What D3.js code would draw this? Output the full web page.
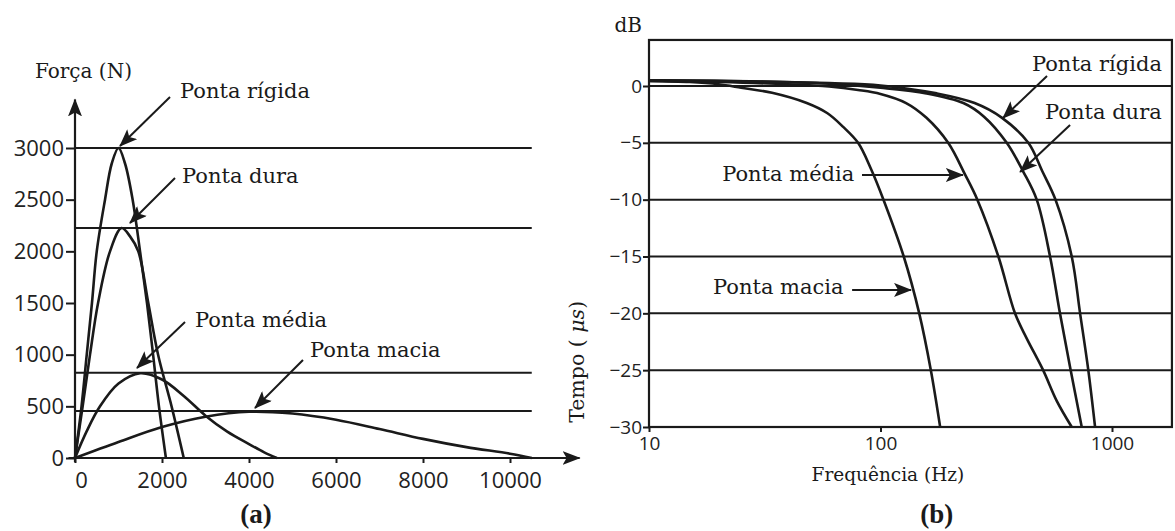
<!DOCTYPE html>
<html><head><meta charset="utf-8">
<script src="https://cdn.jsdelivr.net/npm/d3@7"></script>
<style>body{margin:0;background:#fff} svg{display:block}</style>
</head><body>
<svg id="c" width="1175" height="531"></svg>
<script>
// ---------- (a) Força x tempo ----------
const forceTicks = [0, 500, 1000, 1500, 2000, 2500, 3000];
const timeTicks = [0, 2000, 4000, 6000, 8000, 10000];
const peakLevels = [3000, 2225, 825, 455];
const rigidaForce = [[0,0],[150,500],[270,1000],[390,1500],[500,2000],[690,2500],[845,2850],[1000,3000],[1150,2850],[1325,2500],[1495,2000],[1655,1500],[1795,1000],[1930,500],[2090,0]];
const duraForce = [[0,0],[176,500],[345,1000],[530,1500],[805,2000],[1070,2225],[1265,2145],[1455,2000],[1685,1500],[1910,1000],[2220,500],[2500,0]];
const mediaForce = [[0,0],[270,260],[575,500],[1000,720],[1500,820],[2000,760],[2500,600],[3000,410],[3500,255],[4000,135],[4350,55],[4640,0]];
const maciaForce = [[0,0],[1000,155],[2000,300],[3000,400],[4000,448],[5000,430],[6000,370],[7000,280],[8000,185],[9000,105],[10000,42],[10500,0]];
const seriesA = ["Ponta rígida", "Ponta dura", "Ponta média", "Ponta macia"];

// ---------- (b) dB x frequência ----------
const dbTicks = [0, -5, -10, -15, -20, -25, -30];
const freqTicks = [10, 100, 1000];
const maciaDb = [[10,0.45],[15,0.35],[20,0.15],[25,-0.15],[34,-0.6],[48,-1.5],[59,-2.4],[69,-3.6],[80,-5],[91,-7.3],[103,-10],[126,-15],[147,-20],[165,-25],[181,-30]];
const mediaDb = [[10,0.45],[20,0.35],[40,0.15],[60,-0.05],[80,-0.35],[100,-0.7],[129,-1.5],[158,-2.8],[196,-5],[232,-7.8],[262,-10],[323,-15],[381,-20],[428,-22.2],[504,-25],[577,-27.7],[670,-30]];
const duraDb = [[10,0.5],[30,0.4],[60,0.2],[100,-0.15],[158,-0.65],[228,-1.5],[280,-2.7],[351,-5],[414,-7.55],[473,-10],[540,-15],[596,-20],[663,-25],[740,-30]];
const rigidaDb = [[10,0.5],[30,0.4],[60,0.25],[100,0.05],[175,-0.65],[255,-1.5],[335,-2.8],[435,-5],[500,-7.5],[570,-10],[670,-15],[728,-20],[790,-25],[845,-30]];

const ink = "#1a1a1a";
const serif = "'DejaVu Serif', serif";
const sans = "'Open Sans', sans-serif";
const svg = d3.select("#c");

const defs = svg.append("defs");
defs.append("marker").attr("id","ah").attr("markerUnits","userSpaceOnUse")
  .attr("viewBox","0 0 18 14").attr("refX",17).attr("refY",7)
  .attr("markerWidth",18).attr("markerHeight",14).attr("orient","auto")
  .append("path").attr("d","M0,0 L18,7 L0,14 L4,7 Z").attr("fill",ink);

// ===== Panel (a) =====
const xA = d3.scaleLinear().domain([0, 10000]).range([75, 510]);
const yA = d3.scaleLinear().domain([0, 3000]).range([458, 148]);
const gA = svg.append("g");

gA.selectAll("line.peak").data(peakLevels).join("line").attr("class","peak")
  .attr("x1", xA(0)).attr("x2", xA(10500)).attr("y1", d=>yA(d)).attr("y2", d=>yA(d))
  .attr("stroke", ink).attr("stroke-width", 2);

const lineA = d3.line().x(d=>xA(d[0])).y(d=>yA(d[1])).curve(d3.curveCatmullRom.alpha(0.5));
[rigidaForce, duraForce, mediaForce, maciaForce].forEach(s=>{
  gA.append("path").attr("d", lineA(s)).attr("fill","none").attr("stroke", ink).attr("stroke-width", 2.6);
});

const ayA = gA.append("g").attr("transform", `translate(${xA(0)},0)`)
  .call(d3.axisLeft(yA).tickValues(forceTicks).tickSize(9).tickPadding(2).tickFormat(d3.format("d")));
const axA = gA.append("g").attr("transform", `translate(0,${yA(0)})`)
  .call(d3.axisBottom(xA).tickValues(timeTicks).tickSize(5).tickPadding(9).tickFormat(d3.format("d")));
[ayA, axA].forEach(a=>{
  a.select(".domain").remove();
  a.selectAll("line").attr("stroke", ink).attr("stroke-width", 2);
  a.selectAll("text").attr("font-family", sans).attr("font-size", 22).attr("fill", "#222");
});
axA.selectAll("text").filter(d=>d===0).attr("dx", 6);
gA.append("line").attr("x1", xA(0)).attr("x2", xA(0)).attr("y1", yA(-40)).attr("y2", yA(3470))
  .attr("stroke", ink).attr("stroke-width", 2.2).attr("marker-end","url(#ah)");
gA.append("line").attr("x1", xA(-150)).attr("x2", xA(11600)).attr("y1", yA(0)).attr("y2", yA(0))
  .attr("stroke", ink).attr("stroke-width", 2.2).attr("marker-end","url(#ah)");

gA.append("text").attr("x", xA(-920)).attr("y", yA(3677)).text("Força (N)")
  .attr("font-family", serif).attr("font-size", 20).attr("fill", ink);

const annA = [
  {t:[2414,3484], f:[2184,3494], to:[1034,3019]},
  {t:[2460,2661], f:[2299,2710], to:[1264,2274]},
  {t:[2759,1268], f:[2529,1316], to:[1425,871]},
  {t:[5402,977],  f:[5241,948],  to:[4138,484]}
];
annA.forEach((a,i)=>{
  gA.append("text").attr("x", xA(a.t[0])).attr("y", yA(a.t[1])).text(seriesA[i])
    .attr("font-family", serif).attr("font-size", 21).attr("fill", ink);
  gA.append("line").attr("x1", xA(a.f[0])).attr("y1", yA(a.f[1])).attr("x2", xA(a.to[0])).attr("y2", yA(a.to[1]))
    .attr("stroke", ink).attr("stroke-width", 2).attr("marker-end","url(#ah)");
});
gA.append("text").attr("x", xA(4160)).attr("y", 523).attr("text-anchor","middle").text("(a)")
  .attr("font-family","'Liberation Serif', serif").attr("font-weight","bold").attr("font-size", 27).attr("fill", ink);

// ===== Panel (b) =====
const xB = d3.scaleLog().domain([10, 1000]).range([649, 1112]);
const yB = d3.scaleLinear().domain([-30, 0]).range([427, 86]);
const fMax = 1815, dbTop = 4.05;
const gB = svg.append("g");

gB.selectAll("line.grid").data(dbTicks.filter(d=>d>-30)).join("line").attr("class","grid")
  .attr("x1", xB(10)).attr("x2", xB(fMax)).attr("y1", d=>yB(d)).attr("y2", d=>yB(d))
  .attr("stroke", ink).attr("stroke-width", 2);
gB.append("rect").attr("x", xB(10)).attr("y", yB(dbTop)).attr("width", xB(fMax)-xB(10)).attr("height", yB(-30)-yB(dbTop))
  .attr("fill","none").attr("stroke", ink).attr("stroke-width", 2.2);

const lineB = d3.line().x(d=>xB(d[0])).y(d=>yB(d[1])).curve(d3.curveCatmullRom.alpha(0.5));
[maciaDb, mediaDb, duraDb, rigidaDb].forEach(s=>{
  gB.append("path").attr("d", lineB(s)).attr("fill","none").attr("stroke", ink).attr("stroke-width", 2.6);
});

const ayB = gB.append("g").attr("transform", `translate(${xB(10)},0)`)
  .call(d3.axisLeft(yB).tickValues(dbTicks).tickSize(6).tickPadding(1).tickFormat(d3.format("d")));
const axB = gB.append("g").attr("transform", `translate(0,${yB(-30)})`)
  .call(d3.axisBottom(xB).tickValues(freqTicks).tickSize(5).tickPadding(5).tickFormat(d3.format("d")));
[ayB, axB].forEach(a=>{
  a.select(".domain").remove();
  a.selectAll("line").attr("stroke", ink).attr("stroke-width", 2);
  a.selectAll("text").attr("font-family", sans).attr("font-size", 19).attr("fill", "#222");
});

gB.append("text").attr("x", xB(10)-7).attr("y", yB(4.75)).attr("text-anchor","end").text("dB")
  .attr("font-family", serif).attr("font-size", 20).attr("fill", ink);
gB.append("text").attr("x", xB(107.7)).attr("y", yB(-34.74)).attr("text-anchor","middle").text("Frequência (Hz)")
  .attr("font-family", serif).attr("font-size", 18.5).attr("fill", ink);
const tt = gB.append("text").attr("transform", `translate(${xB(5.24)},${yB(-24.27)}) rotate(-90)`)
  .attr("text-anchor","middle").attr("font-family", serif).attr("font-size", 20.5).attr("fill", ink);
tt.append("tspan").text("Tempo ( ");
tt.append("tspan").attr("font-style","italic").text("μs");
tt.append("tspan").text(")");

const seriesB = ["Ponta rígida", "Ponta dura", "Ponta média", "Ponta macia"];
const annB = [
  {t:[451,1.35],   f:[524,0.88],    to:[338,-2.81]},
  {t:[514,-2.9],   f:[659,-3.43],   to:[401,-7.56]},
  {t:[20.7,-8.36], f:[83.2,-7.83],  to:[227,-7.83]},
  {t:[18.9,-18.3], f:[75.4,-17.94], to:[135.5,-17.94]}
];
annB.forEach((a,i)=>{
  gB.append("text").attr("x", xB(a.t[0])).attr("y", yB(a.t[1])).text(seriesB[i])
    .attr("font-family", serif).attr("font-size", 21).attr("fill", ink);
  gB.append("line").attr("x1", xB(a.f[0])).attr("y1", yB(a.f[1])).attr("x2", xB(a.to[0])).attr("y2", yB(a.to[1]))
    .attr("stroke", ink).attr("stroke-width", 2).attr("marker-end","url(#ah)");
});
gB.append("text").attr("x", xB(175)).attr("y", 523).attr("text-anchor","middle").text("(b)")
  .attr("font-family","'Liberation Serif', serif").attr("font-weight","bold").attr("font-size", 27).attr("fill", ink);
</script>
</body></html>
